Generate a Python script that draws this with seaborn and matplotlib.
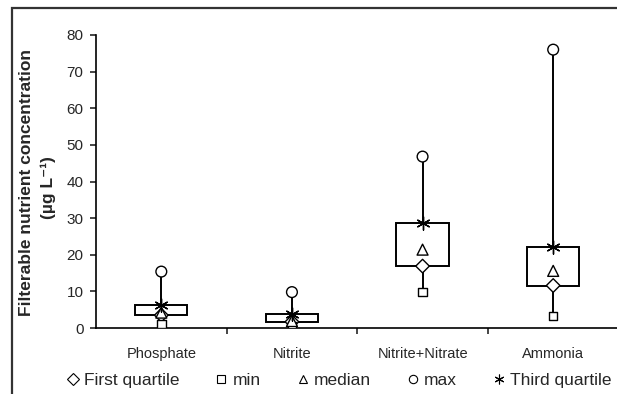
import pandas as pd
import seaborn as sns
import matplotlib.pyplot as plt
from matplotlib.lines import Line2D
from matplotlib.patches import Rectangle

# Values (ug/L)
nutrients = ['Phosphate', 'Nitrite', 'Nitrite+Nitrate', 'Ammonia']
first_quartile = [3.5, 1.7, 16.9, 11.6]
minimum = [1.1, 0.5, 9.8, 3.3]
median = [4.2, 1.9, 21.4, 15.6]
maximum = [15.4, 9.8, 46.8, 76.0]
third_quartile = [6.4, 3.8, 28.6, 22.1]
yticks = [0, 10, 20, 30, 40, 50, 60, 70, 80]

df = pd.DataFrame({'nutrient': nutrients, 'First quartile': first_quartile,
                   'min': minimum, 'median': median, 'max': maximum,
                   'Third quartile': third_quartile})
filled = df.melt(id_vars='nutrient', value_vars=['First quartile', 'min', 'median', 'max'],
                 var_name='stat', value_name='value')

sns.set_style('white')
plt.rcParams['font.family'] = ['Liberation Sans', 'DejaVu Sans']

fig = plt.figure(figsize=(6.17, 3.94), dpi=100)
ax = fig.add_axes([96 / 617, 1 - 328 / 394, 522.5 / 617, 293 / 394])

# whiskers behind the boxes
ax.vlines(nutrients, minimum, maximum, color='black', lw=1.4, zorder=1)
ax.bar(nutrients, df['Third quartile'] - df['First quartile'], bottom=first_quartile,
       width=0.4, color='white', edgecolor='black', lw=1.4, zorder=2)

markers = {'First quartile': 'D', 'min': 's', 'median': '^', 'max': 'o'}
sizes = {'First quartile': 48, 'min': 38, 'median': 62, 'max': 60}
sns.scatterplot(data=filled, x='nutrient', y='value', style='stat', markers=markers,
                size='stat', sizes=sizes, color='white', edgecolor='black',
                linewidth=1.0, zorder=3, legend=False, ax=ax)
sns.scatterplot(data=df, x='nutrient', y='Third quartile', marker=(6, 2, 0),
                color='black', linewidth=1.0, s=90, zorder=4, ax=ax)

ax.set_xlim(-0.5, 3.5)
ax.set_ylim(0, 80)
ax.set_yticks(yticks)
ax.set_xlabel('')
ax.set_ylabel('')
ax.set_xticks([0.5, 1.5, 2.5], minor=True)
ax.tick_params(axis='x', which='major', length=0, pad=14, labelsize=10.5)
ax.tick_params(axis='x', which='minor', length=4, width=1.2, direction='out', bottom=True)
ax.tick_params(axis='y', length=4, width=1.2, direction='out', left=True, labelsize=11, pad=5)
sns.despine(ax=ax)
for s in ['left', 'bottom']:
    ax.spines[s].set_color('black')
    ax.spines[s].set_linewidth(1.2)

fig.text(27 / 617, 1 - 183 / 394, 'Filterable nutrient concentration', rotation=90,
         ha='center', va='center', fontsize=12.5, fontweight='bold')
fig.text(48 / 617, 1 - 188 / 394, '(\u00b5g L\u207b\u00b9)', rotation=90,
         ha='center', va='center', fontsize=12.5, fontweight='bold')

handles = [Line2D([], [], ls='none', marker=m, mfc='white', mec='black', ms=6, mew=0.8)
           for m in ['D', 's', '^', 'o']]
handles.append(Line2D([], [], ls='none', marker=(6, 2, 0), color='black', ms=7, mew=0.8))
labels = ['First quartile', 'min', 'median', 'max', 'Third quartile']
fig.legend(handles, labels, loc='center', bbox_to_anchor=(0.549, 1 - 380 / 394), ncol=5,
           frameon=False, fontsize=12.5, handlelength=0.8, handletextpad=0.25,
           columnspacing=2.0)

# chart area border (cut off at right and bottom)
fig.patches.append(Rectangle((12 / 617, -0.1), 1.0, 0.1 + (394 - 8) / 394,
                             transform=fig.transFigure, fill=False, lw=1.6,
                             edgecolor='#333333'))

fig.savefig('out.png', dpi=100)
